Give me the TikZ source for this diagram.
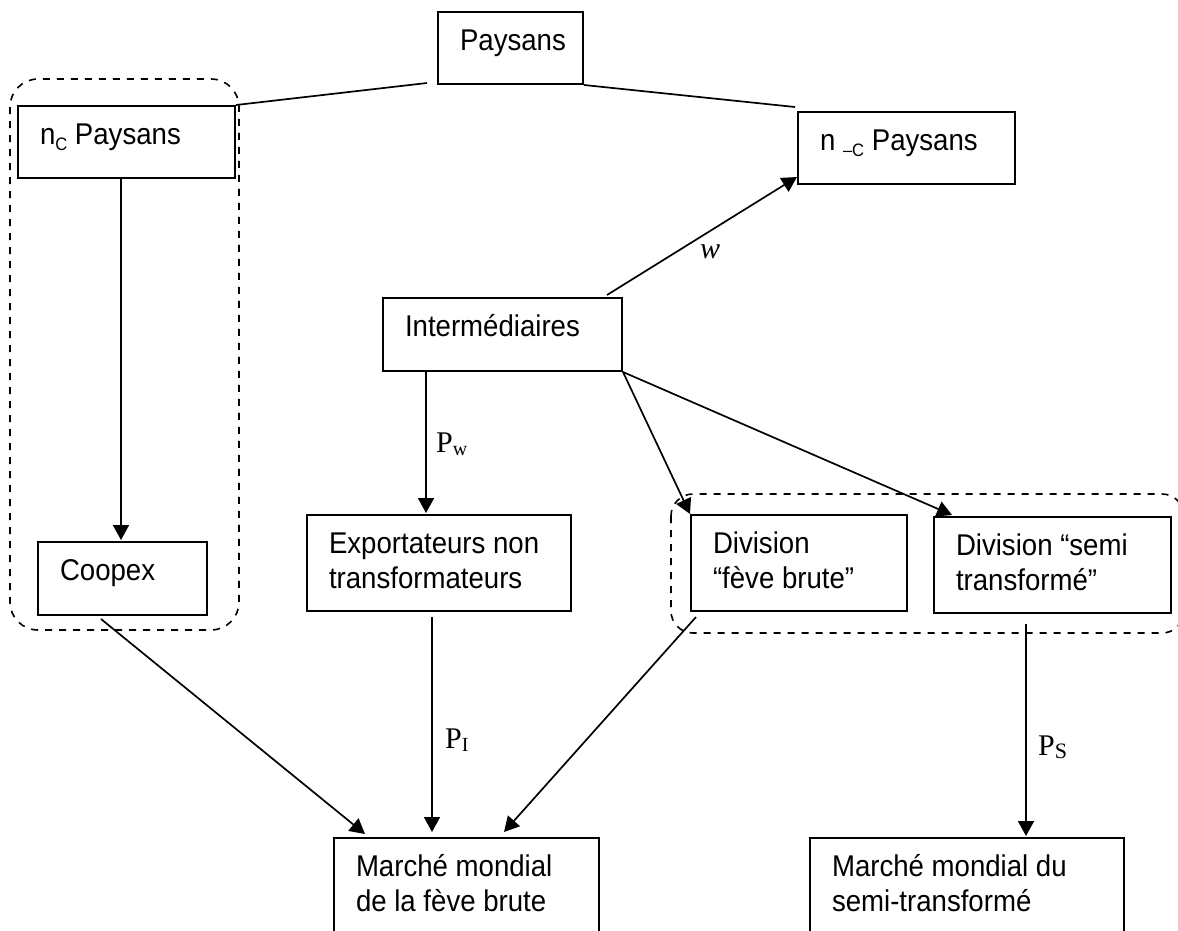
\documentclass[tikz,border=0pt]{standalone}
\usepackage{fontspec}
\setmainfont{Liberation Sans}[FakeStretch=0.92]
\newfontfamily\tms{Liberation Serif}
\usetikzlibrary{arrows.meta,calc}
\newcommand\boxtxt[3]{\parbox[t][#2][t]{#1}{\raggedright\leftskip=22pt\relax\parindent=0pt\vspace*{13.5pt}\strut#3\par}}
\newcommand\subsc[1]{\raisebox{-6pt}{\fontsize{18}{18}\selectfont #1}}
\begin{document}
\begin{tikzpicture}[x=1pt,y=-1pt,
  bx/.style={draw,line width=2pt,inner sep=0pt,anchor=north west,font=\fontsize{30}{35}\selectfont},
  arr/.style={-{Triangle[length=15pt,width=16pt]},line width=1.7pt},
  ln/.style={line width=1.7pt},
  grp/.style={line width=1.6pt,dash pattern=on 7pt off 7pt,rounded corners=28pt},
  lbl/.style={inner sep=0pt,anchor=base west,font=\tms\fontsize{30}{30}\selectfont}]
\useasboundingbox (0,0) rectangle (1178,930);
\clip (0,0) rectangle (1178,930);
% group outlines
\draw[grp] (10,79) rectangle (239,630);
\draw[grp,rounded corners=22pt] (671,494) rectangle (1184,633);
% boxes
\node[bx] (P) at (437,11) {\boxtxt{145pt}{72pt}{Paysans}};
\node[bx] (nC) at (17,105) {\boxtxt{217pt}{72pt}{n\subsc{C} Paysans}};
\node[bx] (nmC) at (797,111) {\boxtxt{217pt}{72pt}{n \subsc{–C} Paysans}};
\node[bx] (I) at (382,297) {\boxtxt{239pt}{73pt}{Intermédiaires}};
\node[bx] (Coop) at (37,541) {\boxtxt{169pt}{73pt}{Coopex}};
\node[bx] (Exp) at (306,514) {\boxtxt{264pt}{96pt}{Exportateurs non\\transformateurs}};
\node[bx] (DF) at (690,514) {\boxtxt{216pt}{96pt}{Division\\“fève brute”}};
\node[bx] (DS) at (933,516) {\boxtxt{237pt}{96pt}{Division “semi\\transformé”}};
\node[bx] (M1) at (333,837) {\boxtxt{265pt}{130pt}{Marché mondial\\de la fève brute}};
\node[bx] (M2) at (809,837) {\boxtxt{314pt}{130pt}{Marché mondial du\\semi-transformé}};
% connectors
\draw[ln] ($(P.south west)+(-10,-2)$) -- (nC.north east);
\draw[ln] (P.south east) -- ($(nmC.north west)+(-2,-4)$);
\draw[arr] ($(nC.south west)+(104,0)$) -- ($(Coop.north west)+(84,-1)$);
\draw[arr] ($(I.north east)+(-16,-2)$) -- ($(nmC.south west)+(0,-8)$);
\draw[arr] ($(I.south west)+(44,0)$) -- ($(Exp.north west)+(120,-1)$);
\draw[arr] (I.south east) -- (DF.north west);
\draw[arr] (I.south east) -- ($(DS.north west)+(19,-1)$);
\draw[arr] ($(Coop.south west)+(64,3)$) -- ($(M1.north west)+(32,-3)$);
\draw[arr] ($(Exp.south west)+(126,5)$) -- ($(M1.north west)+(99,-5)$);
\draw[arr] ($(DF.south west)+(6,5)$) -- ($(M1.north west)+(171,-5)$);
\draw[arr] ($(DS.south west)+(93,10)$) -- ($(M2.north west)+(217,-1)$);
% labels
\node[lbl,font=\tms\itshape\fontsize{30}{30}\selectfont] (lw) at (700,258) {w};
\node[lbl] (lPw) at (436,452) {P\raisebox{-3pt}{\fontsize{20}{20}\selectfont w}};
\node[lbl] (lPI) at (445,748) {P\raisebox{-3pt}{\fontsize{20}{20}\selectfont I}};
\node[lbl] (lPS) at (1038,755) {P\raisebox{-3pt}{\fontsize{22}{22}\selectfont S}};
\end{tikzpicture}
\end{document}
